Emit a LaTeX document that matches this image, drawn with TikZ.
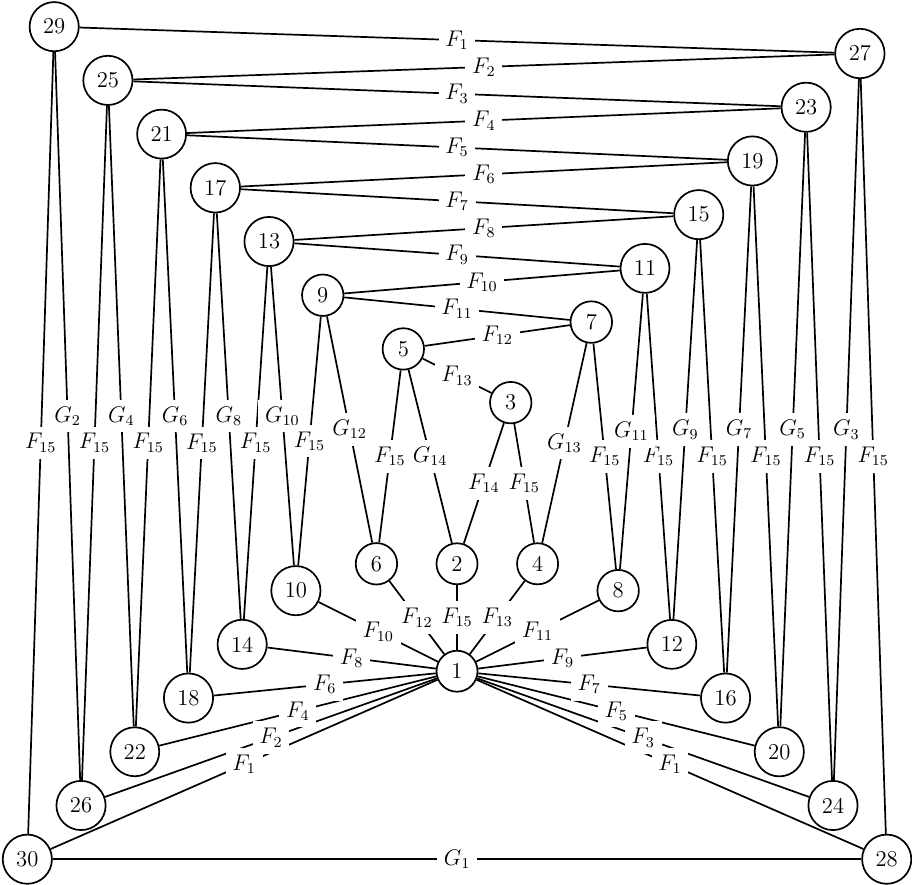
\documentclass[tikz,border=0pt]{standalone}
\begin{document}
\begin{tikzpicture}[
  vtx/.style={circle, draw, line width=0.9pt, fill=white, inner sep=4.2pt, font=\fontsize{12}{14}\selectfont},
  lab/.style={fill=white, inner sep=3.6pt, font=\fontsize{12}{14}\selectfont},
  edge/.style={line width=0.9pt}]
\useasboundingbox (-8.509,-3.962) rectangle (8.471,12.497);
\foreach \n/\x/\y in {1/0/0, 2/0/2, 3/1/5, 4/1.5/2, 5/-1/6, 6/-1.5/2, 7/2.5/6.5, 8/3/1.5,
  9/-2.5/7, 10/-3/1.5, 11/3.5/7.5, 12/4/0.5, 13/-3.5/8, 14/-4/0.5, 15/4.5/8.5, 16/5/-0.5,
  17/-4.5/9, 18/-5/-0.5, 19/5.5/9.5, 20/6/-1.5, 21/-5.5/10, 22/-6/-1.5, 23/6.5/10.5, 24/7/-2.5,
  25/-6.5/11, 26/-7/-2.5, 27/7.5/11.5, 28/8/-3.5, 29/-7.5/12, 30/-8/-3.5}
  \node[vtx] (\n) at (\x,\y) {\n};
\def\edgelist{29/27/F_1, 25/27/F_2, 25/23/F_3, 21/23/F_4, 21/19/F_5, 17/19/F_6, 17/15/F_7,
  13/15/F_8, 13/11/F_9, 9/11/F_{10}, 9/7/F_{11}, 5/7/F_{12}, 5/3/F_{13}, 3/2/F_{14}, 3/4/F_{15},
  1/30/F_1, 1/28/F_1, 1/26/F_2, 1/24/F_3, 1/22/F_4, 1/20/F_5, 1/18/F_6, 1/16/F_7, 1/14/F_8,
  1/12/F_9, 1/10/F_{10}, 1/8/F_{11}, 1/6/F_{12}, 1/4/F_{13}, 1/2/F_{15},
  30/28/G_1,
  29/30/F_{15}, 29/26/G_2, 25/26/F_{15}, 25/22/G_4, 21/22/F_{15}, 21/18/G_6, 17/18/F_{15},
  17/14/G_8, 13/14/F_{15}, 13/10/G_{10}, 9/10/F_{15}, 9/6/G_{12}, 5/6/F_{15}, 5/2/G_{14},
  27/28/F_{15}, 27/24/G_3, 23/24/F_{15}, 23/20/G_5, 19/20/F_{15}, 19/16/G_7, 15/16/F_{15},
  15/12/G_9, 11/12/F_{15}, 11/8/G_{11}, 7/8/F_{15}, 7/4/G_{13}}
\foreach \a/\b/\l in \edgelist \draw[edge] (\a) -- (\b);
\foreach \a/\b/\l in \edgelist \path (\a) -- node[lab] {$\l$} (\b);
\end{tikzpicture}
\end{document}
